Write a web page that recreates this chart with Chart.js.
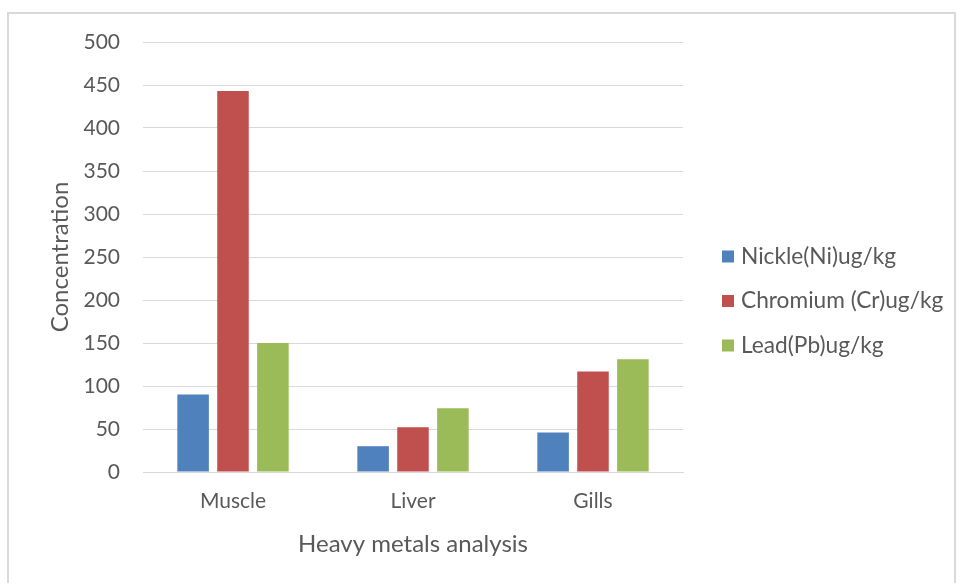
<!DOCTYPE html>
<html>
<head>
<meta charset="utf-8">
<script src="https://cdn.jsdelivr.net/npm/chart.js@4/dist/chart.umd.min.js"></script>
<style>
  html, body { margin: 0; padding: 0; background: #ffffff; }
  #wrap { position: relative; width: 958px; height: 583px; overflow: hidden; }
  #frame {
    position: absolute; left: 7px; top: 12px; width: 949px; height: 574px;
    border: 2px solid #d9d9d9; box-sizing: border-box;
  }
  canvas { position: absolute; left: 0; top: 0; }
</style>
</head>
<body>
<div id="wrap">
  <div id="frame"></div>
  <canvas id="chart" width="958" height="583"></canvas>
</div>
<script>
const categories = ['Muscle', 'Liver', 'Gills'];
const seriesNames = ['Nickle(Ni)ug/kg', 'Chromium (Cr)ug/kg', 'Lead(Pb)ug/kg'];
const nickelValues = [90, 30, 46];
const chromiumValues = [443, 52, 117];
const leadValues = [150, 74, 131];
const seriesColors = ['#4f81bd', '#c0504d', '#9bbb59'];
const yTicks = [0, 50, 100, 150, 200, 250, 300, 350, 400, 450, 500];

const FONT = 'Lato, "Open Sans", sans-serif';
const TEXT = '#595959';

// Legend drawn beside the plot area, items stacked vertically
const sideLegend = {
  id: 'sideLegend',
  afterDraw(chart) {
    const ctx = chart.ctx;
    const area = chart.chartArea;
    const x = area.right + 39;
    const gap = 44.5;
    const midY = 301;
    ctx.save();
    ctx.font = '22.7px ' + FONT;
    ctx.textBaseline = 'middle';
    chart.data.datasets.forEach((ds, i) => {
      const y = midY + (i - 1) * gap;
      ctx.fillStyle = ds.backgroundColor;
      ctx.fillRect(x, y - 6, 12, 12);
      ctx.fillStyle = TEXT;
      ctx.fillText(ds.label, x + 19, y);
    });
    ctx.restore();
  }
};

new Chart(document.getElementById('chart'), {
  type: 'bar',
  data: {
    labels: categories,
    datasets: [
      { label: seriesNames[0], data: nickelValues, backgroundColor: seriesColors[0] },
      { label: seriesNames[1], data: chromiumValues, backgroundColor: seriesColors[1] },
      { label: seriesNames[2], data: leadValues, backgroundColor: seriesColors[2] }
    ]
  },
  options: {
    responsive: false,
    animation: false,
    devicePixelRatio: 1,
    layout: { padding: { left: 40, right: 275, top: 42, bottom: 0 } },
    datasets: {
      bar: { categoryPercentage: 0.665, barPercentage: 0.79 }
    },
    plugins: {
      legend: { display: false },
      tooltip: { enabled: false }
    },
    scales: {
      x: {
        afterFit(scale) { scale.height = 111; },
        grid: { display: false, drawTicks: false },
        border: { display: true, color: '#d9d9d9', width: 1 },
        ticks: { color: TEXT, font: { family: FONT, size: 21 }, padding: 17 },
        title: {
          display: true, text: 'Heavy metals analysis', color: TEXT,
          font: { family: FONT, size: 24 }, padding: { top: 10, bottom: 24 }
        }
      },
      y: {
        min: 0, max: 500,
        afterBuildTicks(scale) { scale.ticks = yTicks.map(v => ({ value: v })); },
        afterFit(scale) { scale.width = 103; },
        grid: { color: '#d9d9d9', drawTicks: false },
        border: { display: false },
        ticks: { color: TEXT, font: { family: FONT, size: 21 }, padding: 23 },
        title: {
          display: true, text: 'Concentration', color: TEXT,
          font: { family: FONT, size: 24 }, padding: { top: 6, bottom: 6 }
        }
      }
    }
  },
  plugins: [sideLegend]
});
</script>
</body>
</html>
